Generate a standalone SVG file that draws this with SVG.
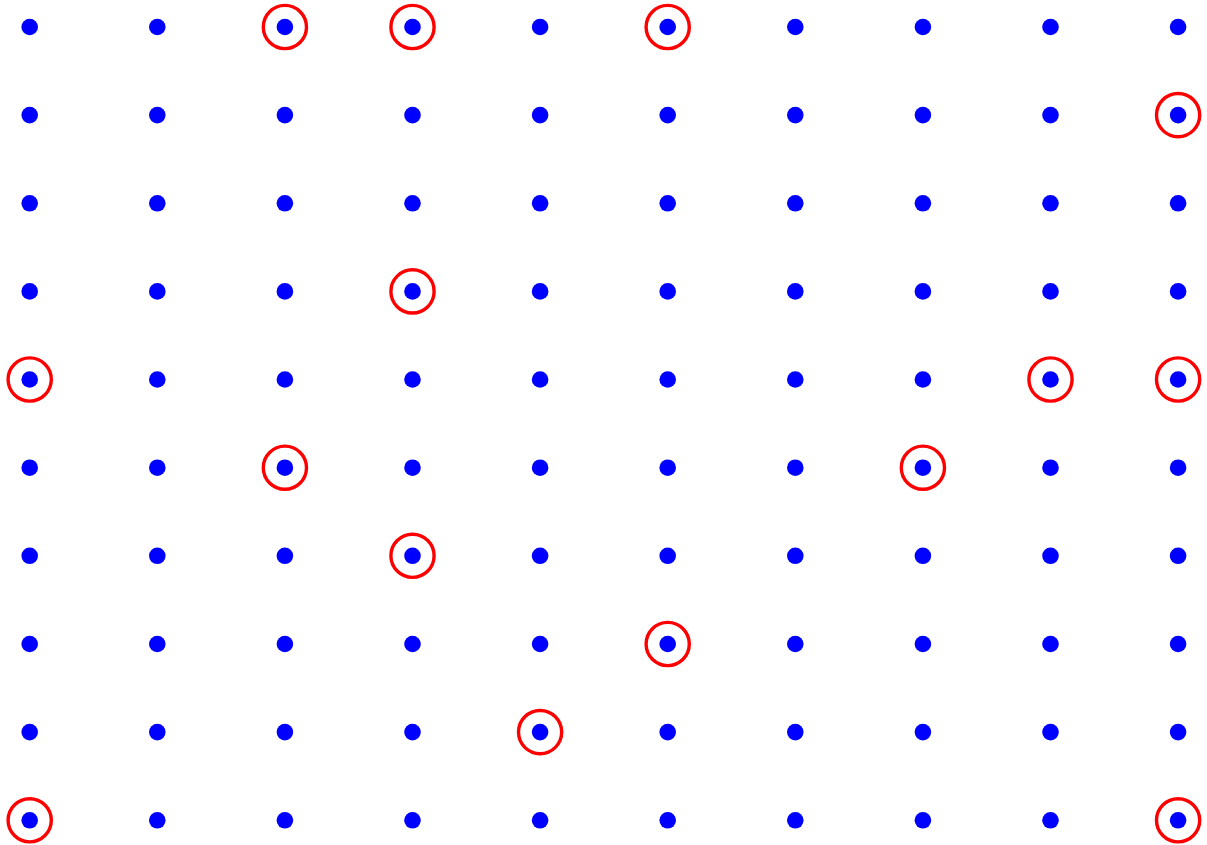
<svg xmlns="http://www.w3.org/2000/svg" width="1207" height="845" viewBox="0 0 1207 845">
<style>
.d{fill:#0000ff}
.r{fill:none;stroke:#ff0000;stroke-width:3.4}
</style>
<defs>
<circle id="dot" r="8.3" class="d"/>
<circle id="ring" r="21.6" class="r"/>
</defs>
<rect width="1207" height="845" fill="#fff"/>
<g id="dots">
<g id="row0"><use href="#dot" x="29.7" y="27"/><use href="#dot" x="157.3" y="27"/><use href="#dot" x="284.9" y="27"/><use href="#dot" x="412.5" y="27"/><use href="#dot" x="540.1" y="27"/><use href="#dot" x="667.7" y="27"/><use href="#dot" x="795.3" y="27"/><use href="#dot" x="922.9" y="27"/><use href="#dot" x="1050.5" y="27"/><use href="#dot" x="1178.1" y="27"/></g>
<g id="row1"><use href="#dot" x="29.7" y="115.1"/><use href="#dot" x="157.3" y="115.1"/><use href="#dot" x="284.9" y="115.1"/><use href="#dot" x="412.5" y="115.1"/><use href="#dot" x="540.1" y="115.1"/><use href="#dot" x="667.7" y="115.1"/><use href="#dot" x="795.3" y="115.1"/><use href="#dot" x="922.9" y="115.1"/><use href="#dot" x="1050.5" y="115.1"/><use href="#dot" x="1178.1" y="115.1"/></g>
<g id="row2"><use href="#dot" x="29.7" y="203.3"/><use href="#dot" x="157.3" y="203.3"/><use href="#dot" x="284.9" y="203.3"/><use href="#dot" x="412.5" y="203.3"/><use href="#dot" x="540.1" y="203.3"/><use href="#dot" x="667.7" y="203.3"/><use href="#dot" x="795.3" y="203.3"/><use href="#dot" x="922.9" y="203.3"/><use href="#dot" x="1050.5" y="203.3"/><use href="#dot" x="1178.1" y="203.3"/></g>
<g id="row3"><use href="#dot" x="29.7" y="291.4"/><use href="#dot" x="157.3" y="291.4"/><use href="#dot" x="284.9" y="291.4"/><use href="#dot" x="412.5" y="291.4"/><use href="#dot" x="540.1" y="291.4"/><use href="#dot" x="667.7" y="291.4"/><use href="#dot" x="795.3" y="291.4"/><use href="#dot" x="922.9" y="291.4"/><use href="#dot" x="1050.5" y="291.4"/><use href="#dot" x="1178.1" y="291.4"/></g>
<g id="row4"><use href="#dot" x="29.7" y="379.5"/><use href="#dot" x="157.3" y="379.5"/><use href="#dot" x="284.9" y="379.5"/><use href="#dot" x="412.5" y="379.5"/><use href="#dot" x="540.1" y="379.5"/><use href="#dot" x="667.7" y="379.5"/><use href="#dot" x="795.3" y="379.5"/><use href="#dot" x="922.9" y="379.5"/><use href="#dot" x="1050.5" y="379.5"/><use href="#dot" x="1178.1" y="379.5"/></g>
<g id="row5"><use href="#dot" x="29.7" y="467.7"/><use href="#dot" x="157.3" y="467.7"/><use href="#dot" x="284.9" y="467.7"/><use href="#dot" x="412.5" y="467.7"/><use href="#dot" x="540.1" y="467.7"/><use href="#dot" x="667.7" y="467.7"/><use href="#dot" x="795.3" y="467.7"/><use href="#dot" x="922.9" y="467.7"/><use href="#dot" x="1050.5" y="467.7"/><use href="#dot" x="1178.1" y="467.7"/></g>
<g id="row6"><use href="#dot" x="29.7" y="555.8"/><use href="#dot" x="157.3" y="555.8"/><use href="#dot" x="284.9" y="555.8"/><use href="#dot" x="412.5" y="555.8"/><use href="#dot" x="540.1" y="555.8"/><use href="#dot" x="667.7" y="555.8"/><use href="#dot" x="795.3" y="555.8"/><use href="#dot" x="922.9" y="555.8"/><use href="#dot" x="1050.5" y="555.8"/><use href="#dot" x="1178.1" y="555.8"/></g>
<g id="row7"><use href="#dot" x="29.7" y="644"/><use href="#dot" x="157.3" y="644"/><use href="#dot" x="284.9" y="644"/><use href="#dot" x="412.5" y="644"/><use href="#dot" x="540.1" y="644"/><use href="#dot" x="667.7" y="644"/><use href="#dot" x="795.3" y="644"/><use href="#dot" x="922.9" y="644"/><use href="#dot" x="1050.5" y="644"/><use href="#dot" x="1178.1" y="644"/></g>
<g id="row8"><use href="#dot" x="29.7" y="732.1"/><use href="#dot" x="157.3" y="732.1"/><use href="#dot" x="284.9" y="732.1"/><use href="#dot" x="412.5" y="732.1"/><use href="#dot" x="540.1" y="732.1"/><use href="#dot" x="667.7" y="732.1"/><use href="#dot" x="795.3" y="732.1"/><use href="#dot" x="922.9" y="732.1"/><use href="#dot" x="1050.5" y="732.1"/><use href="#dot" x="1178.1" y="732.1"/></g>
<g id="row9"><use href="#dot" x="29.7" y="820.3"/><use href="#dot" x="157.3" y="820.3"/><use href="#dot" x="284.9" y="820.3"/><use href="#dot" x="412.5" y="820.3"/><use href="#dot" x="540.1" y="820.3"/><use href="#dot" x="667.7" y="820.3"/><use href="#dot" x="795.3" y="820.3"/><use href="#dot" x="922.9" y="820.3"/><use href="#dot" x="1050.5" y="820.3"/><use href="#dot" x="1178.1" y="820.3"/></g>
</g>
<g id="rings">
<use href="#ring" x="284.9" y="27"/><use href="#ring" x="412.5" y="27"/><use href="#ring" x="667.7" y="27"/>
<use href="#ring" x="1178.1" y="115.1"/>
<use href="#ring" x="412.5" y="291.4"/>
<use href="#ring" x="29.7" y="379.5"/><use href="#ring" x="1050.5" y="379.5"/><use href="#ring" x="1178.1" y="379.5"/>
<use href="#ring" x="284.9" y="467.7"/><use href="#ring" x="922.9" y="467.7"/>
<use href="#ring" x="412.5" y="555.8"/>
<use href="#ring" x="667.7" y="644"/>
<use href="#ring" x="540.1" y="732.1"/>
<use href="#ring" x="29.7" y="820.3"/><use href="#ring" x="1178.1" y="820.3"/>
</g>
</svg>
